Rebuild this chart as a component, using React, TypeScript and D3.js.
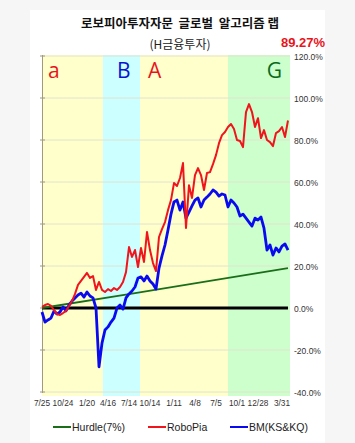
import React, { useEffect, useRef } from 'react';
import * as d3 from 'd3';

// data (cumulative return, %)
const xLabels = ['7/25', '10/24', '1/20', '4/16', '7/14', '10/14', '1/11', '4/8', '7/5', '10/1', '12/28', '3/31'];
const xLabelIndex = [0, 7, 15, 22, 29, 36, 44, 51, 58, 65, 72, 80];
const yTicks = [-40, -20, 0, 20, 40, 60, 80, 100, 120];

const roboPia = [
  0.5, 1.4, 1.9, 1.0, -1.0, -2.9, -3.3, -2.4, -1.4, 1.0, 3.3, 6.7, 11, 12.9, 14.8, 16.7, 14.3, 15.2, 8.6, 12.4,
  8.6, 7.6, 9, 8.1, 9.5, 8.6, 10, 12.4, 17.1, 29, 24.3, 27.6, 19.5, 28.6, 21.9, 36.2, 27.6, 21.4, 17.6, 33.8,
  37.6, 40.9, 46.6, 51.4, 59.5, 58.1, 61.9, 69, 38.1, 58.5, 52.4, 63.3, 66.6, 63.3, 56.2, 64.3, 64.7, 68.5, 72.8, 78.5,
  82.3, 83.8, 86.2, 87.6, 85.2, 80, 79.5, 76.6, 93.3, 97.1, 93.3, 86.2, 90.4, 80.9, 84.7, 80, 79, 77.1, 83.3, 84.2,
  86.2, 81.4, 89.27,
];
const bm = [
  -1.9, -6.7, -5.7, -4.8, -1.4, -2.9, -1.9, 0.5, -1.4, 1.4, 3.3, 4.8, 6.2, 7.1, 5.2, 7.6, 5.7, 4.8, 0, -28,
  -16.7, -10.5, -9, -6.7, -4.8, 0, 1.4, -0.5, 4.8, 6.7, 8.1, 10, 14.3, 14.8, 12.9, 15.2, 12.9, 11.4, 9, 19,
  24.8, 30, 37.1, 44.7, 50.5, 51.4, 46.6, 50.5, 42.8, 45.7, 48.6, 51.4, 52.4, 48.1, 51.4, 52.8, 54.3, 56.2, 55.2, 53.3,
  54.3, 53.8, 48.1, 51.4, 50, 48.1, 43.8, 44.7, 42.8, 40.9, 39, 42.8, 41.9, 43.3, 38, 27.6, 30, 25.2, 28.6, 26.7,
  29.5, 30.5, 27.6,
];
const hurdleIndex = [0, 29, 58, 82];
const hurdle = [0, 6.6, 13.4, 19];

const regimeNames = ['a', 'B', 'A', 'G'];
const regimeStart = [0, 20.3, 32.7, 62];
const regimeEnd = [20.3, 32.7, 62, 82.67];
const lastReturn = '89.27%';

export default function App() {
  const ref = useRef<SVGSVGElement | null>(null);

  useEffect(() => {
    document.body.style.margin = '0';
    draw();
  }, []);

  function draw() {
    const svg = d3.select(ref.current);
    svg.selectAll('*').remove();
    const font = "'Liberation Sans', Arial, sans-serif";
    const kfont = "'Noto Sans CJK KR', sans-serif";

    const x = d3.scaleLinear().domain([0, 82.67]).range([42, 290]);
    const y = d3.scaleLinear().domain([-40, 120]).range([392, 56]);

    svg.append('rect').attr('width', 355).attr('height', 443).attr('fill', '#f6f6f6');
    svg.append('rect').attr('x', 30).attr('y', 10).attr('width', 295).attr('height', 433).attr('fill', '#fff');

    // titles
    svg.append('text').attr('x', 180).attr('y', 28).attr('text-anchor', 'middle')
      .attr('font-family', kfont).attr('font-weight', 'bold').attr('font-size', 12.5).attr('fill', '#111')
      .attr('xml:space', 'preserve')
      .text('로보피아투자자문  글로벌  알고리즘 랩');
    svg.append('text').attr('x', 180).attr('y', 49).attr('text-anchor', 'middle')
      .attr('font-family', kfont).attr('font-size', 12).attr('fill', '#222')
      .text('(H금융투자)');
    svg.append('text').attr('x', 325).attr('y', 47).attr('text-anchor', 'end')
      .attr('font-family', font).attr('font-weight', 'bold').attr('font-size', 13).attr('fill', '#e8141c')
      .text(lastReturn);

    // regime bands
    const bandColors = ['#ffffcc', '#ccffff', '#ffffcc', '#ccffcc'];
    const letterColors = ['#e8141c', '#0a14d0', '#e8141c', '#0a6a1a'];
    regimeNames.forEach((name, i) => {
      svg.append('rect')
        .attr('x', x(regimeStart[i])).attr('y', 55)
        .attr('width', x(regimeEnd[i]) - x(regimeStart[i])).attr('height', 341)
        .attr('fill', bandColors[i]);
    });

    // grid
    svg.append('g').selectAll('line').data(yTicks).enter().append('line')
      .attr('x1', 42).attr('x2', 290).attr('y1', (d) => y(d)).attr('y2', (d) => y(d))
      .attr('stroke', '#e2e2d0').attr('stroke-width', 1);

    // left axis
    svg.append('line').attr('x1', 42.5).attr('x2', 42.5).attr('y1', 55).attr('y2', 393)
      .attr('stroke', '#a09a80').attr('stroke-width', 1);
    svg.append('g').selectAll('line').data(yTicks).enter().append('line')
      .attr('x1', 40).attr('x2', 45).attr('y1', (d) => y(d)).attr('y2', (d) => y(d))
      .attr('stroke', '#a09a80');

    // band letters
    const letterX = [x(regimeStart[0]) + 6, x(regimeStart[1]) + 14, x(regimeStart[2]) + 8, x(regimeEnd[3]) - 8];
    regimeNames.forEach((name, i) => {
      svg.append('text').attr('x', letterX[i]).attr('y', 78)
        .attr('text-anchor', i === 3 ? 'end' : 'start')
        .attr('font-family', "'Open Sans', sans-serif").attr('font-size', 21).attr('fill', letterColors[i])
        .text(name);
    });

    // y labels
    svg.append('g').selectAll('text').data(yTicks).enter().append('text')
      .attr('x', 294).attr('y', (d) => y(d) + 3.5)
      .attr('font-family', font).attr('font-size', 8.5).attr('fill', '#333')
      .text((d) => d.toFixed(1) + '%');

    // x labels
    svg.append('g').selectAll('text').data(xLabels).enter().append('text')
      .attr('x', (d, i) => x(xLabelIndex[i])).attr('y', 406).attr('text-anchor', 'middle')
      .attr('font-family', font).attr('font-size', 8.3).attr('fill', '#333')
      .text((d) => d);

    // zero line
    svg.append('line').attr('x1', 42).attr('x2', x(82)).attr('y1', y(0)).attr('y2', y(0))
      .attr('stroke', '#000').attr('stroke-width', 3);

    // hurdle
    const hLine = d3.line<number>().x((d, i) => x(hurdleIndex[i])).y((d) => y(d));
    svg.append('path').attr('d', hLine(hurdle)).attr('fill', 'none')
      .attr('stroke', '#1a6e1a').attr('stroke-width', 1.8);

    const line = d3.line<number>().x((d, i) => x(i)).y((d) => y(d));
    svg.append('path').attr('d', line(bm)).attr('fill', 'none')
      .attr('stroke', '#0a0af0').attr('stroke-width', 2.8).attr('stroke-linejoin', 'round');
    svg.append('path').attr('d', line(roboPia)).attr('fill', 'none')
      .attr('stroke', '#f0141c').attr('stroke-width', 2).attr('stroke-linejoin', 'round');

    // legend
    const legend = [
      { name: 'Hurdle(7%)', color: '#1a6e1a', x: 53 },
      { name: 'RoboPia', color: '#f0141c', x: 148 },
      { name: 'BM(KS&KQ)', color: '#0a0af0', x: 230 },
    ];
    legend.forEach((l) => {
      svg.append('line').attr('x1', l.x).attr('x2', l.x + 18).attr('y1', 427).attr('y2', 427)
        .attr('stroke', l.color).attr('stroke-width', 2);
      svg.append('text').attr('x', l.x + 19).attr('y', 431)
        .attr('font-family', font).attr('font-size', 10.5).attr('fill', '#222')
        .text(l.name);
    });
  }

  return <svg ref={ref} width={355} height={443} style={{ display: 'block' }}></svg>;
}
